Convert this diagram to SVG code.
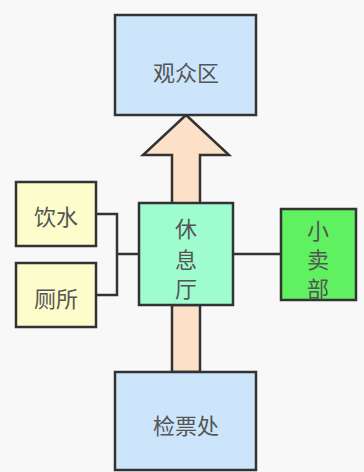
<svg xmlns="http://www.w3.org/2000/svg" width="364" height="472" viewBox="0 0 364 472">
<style>
.box{stroke:#333;stroke-width:2.5}
.t{font-family:"Noto Sans CJK SC",sans-serif;font-size:22px;fill:#555;text-anchor:middle;dominant-baseline:central}
.ln{fill:none;stroke:#333;stroke-width:2.5}
.ar{fill:#fde0c8;stroke:#333;stroke-width:2.5;stroke-linejoin:miter}
</style>
<rect width="364" height="472" fill="#f8f8f8"/>
<g id="connectors">
<path class="ar" d="M186,115 L229,155 L200,155 L200,204 L172,204 L172,155 L143,155 Z"/>
<rect class="ar" x="172" y="305" width="28" height="67"/>
<path class="ln" d="M96,214 H117 V295 H96 M117,254 H139 M233,254 H281"/>
</g>
<g id="guanzhongqu"><rect class="box" x="115" y="15" width="141" height="100" fill="#cce5fb"/><text class="t" x="186" y="71">观众区</text></g>
<g id="xiuxiting"><rect class="box" x="139" y="203" width="94" height="102" fill="#9ffccf"/><text class="t" x="186" y="227">休</text><text class="t" x="186" y="258">息</text><text class="t" x="186" y="287">厅</text></g>
<g id="yinshui"><rect class="box" x="16" y="182" width="80" height="64" fill="#fdfdcb"/><text class="t" x="56" y="215">饮水</text></g>
<g id="cesuo"><rect class="box" x="16" y="263" width="80" height="64" fill="#fdfdcb"/><text class="t" x="56" y="297">厕所</text></g>
<g id="xiaomaibu"><rect class="box" x="281" y="209" width="75" height="91" fill="#5ff15f"/><text class="t" x="318" y="229">小</text><text class="t" x="318" y="258">卖</text><text class="t" x="318" y="287">部</text></g>
<g id="jianpiaochu"><rect class="box" x="115" y="372" width="141" height="98" fill="#cce5fb"/><text class="t" x="186" y="424">检票处</text></g>
</svg>
